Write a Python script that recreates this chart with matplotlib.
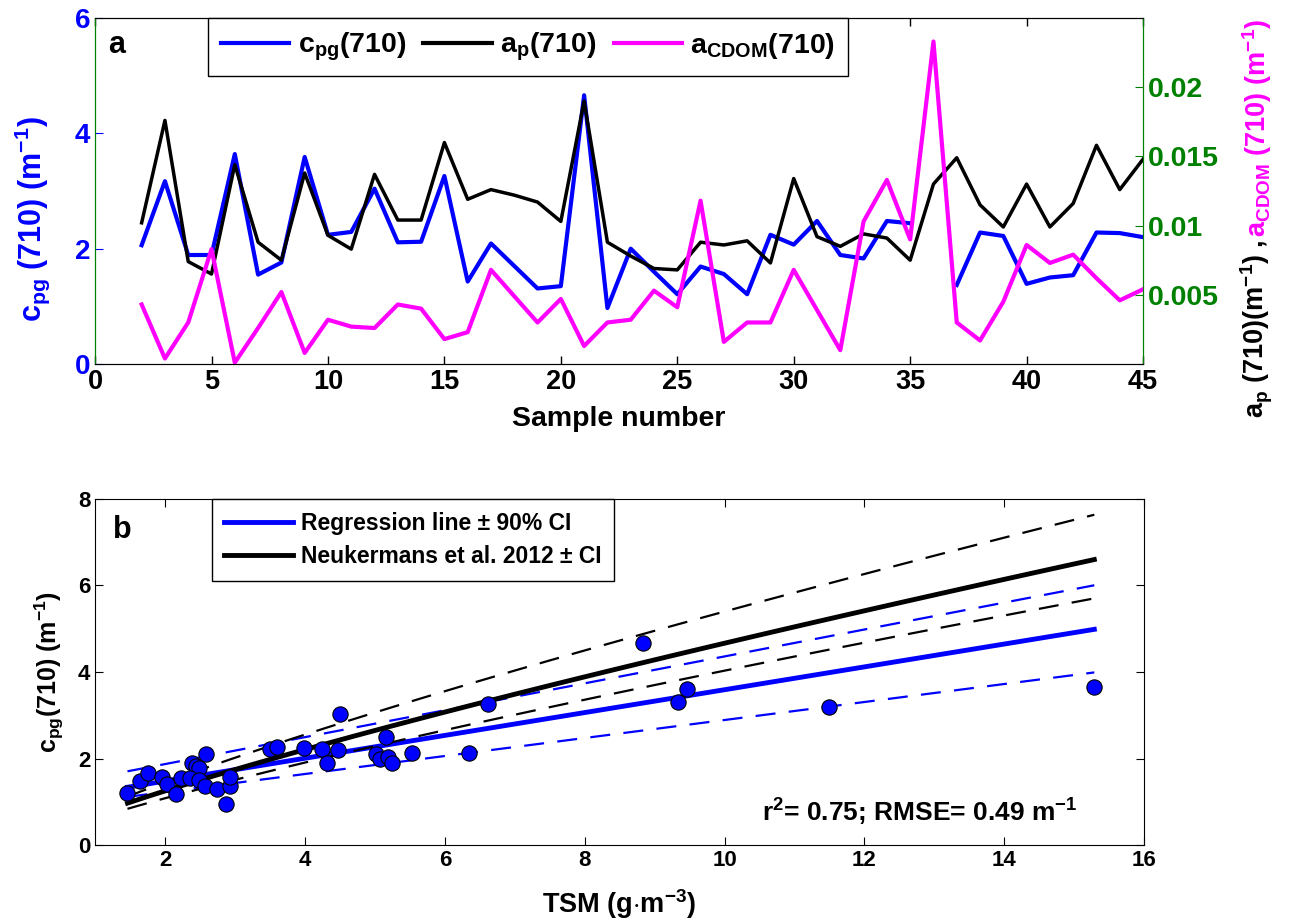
import numpy as np
import matplotlib
matplotlib.use("Agg")
import matplotlib.pyplot as plt
from matplotlib.lines import Line2D

plt.rcParams['font.family'] = ['Liberation Sans', 'DejaVu Sans']
plt.rcParams['font.weight'] = 'bold'
plt.rcParams['mathtext.fontset'] = 'custom'
plt.rcParams['mathtext.rm'] = 'Liberation Sans:bold'
plt.rcParams['mathtext.it'] = 'Liberation Sans:bold'
plt.rcParams['mathtext.bf'] = 'Liberation Sans:bold'
plt.rcParams['mathtext.default'] = 'rm'

# ---- panel a data ----
sample = np.arange(2, 46)
cpg = [2.06, 3.17, 1.89, 1.89, 3.64, 1.55, 1.76, 3.59, 2.24, 2.29, 3.04, 2.11, 2.12, 3.26, 1.43,
       2.09, 1.70, 1.31, 1.35, 4.66, 0.97, 2.00, 1.60, 1.21, 1.69, 1.56, 1.21, 2.24, 2.07, 2.48, 1.89, 1.83,
       2.48, 2.44, np.nan, 1.37, 2.28, 2.22, 1.39, 1.50, 1.54, 2.28, 2.27, 2.20]
ap = [0.0102, 0.0176, 0.0074, 0.0065, 0.0144, 0.0088, 0.0075, 0.0138, 0.0093, 0.0083, 0.0137, 0.0104, 0.0104, 0.0160, 0.0119,
      0.0126, 0.0122, 0.0117, 0.0103, 0.0190, 0.0088, 0.0078, 0.0069, 0.0068, 0.0088, 0.0086, 0.0089, 0.0073, 0.0134, 0.0092, 0.0085, 0.0094,
      0.0091, 0.0075, 0.0130, 0.0149, 0.0115, 0.0099, 0.0130, 0.0099, 0.0116, 0.0158, 0.0126, 0.0148]
acdom = [0.0043, 0.0004, 0.0030, 0.0083, 0.0001, 0.0026, 0.0052, 0.0008, 0.0032, 0.0027, 0.0026, 0.0043, 0.0040, 0.0018, 0.0023,
         0.0068, 0.0049, 0.0030, 0.0047, 0.0013, 0.0030, 0.0032, 0.0053, 0.0041, 0.0118, 0.0016, 0.0030, 0.0030, 0.0068, 0.0039, 0.0010, 0.0103,
         0.0133, 0.0090, 0.0233, 0.0030, 0.0017, 0.0045, 0.0086, 0.0073, 0.0079, 0.0062, 0.0046, 0.0054]

# ---- panel b data ----
tsm = [1.46, 1.64, 1.75, 1.95, 2.03, 2.15, 2.22, 2.38, 2.44, 2.48, 2.36, 2.59, 2.49, 2.57, 2.74, 2.87, 2.92, 2.92,
       3.50, 3.60, 3.98, 4.24, 4.31, 4.47, 4.50, 5.01, 5.07, 5.16, 5.18, 5.25, 5.53, 6.34, 6.62,
       8.84, 9.46, 9.34, 11.50, 15.29]
cpg_b = [1.21, 1.49, 1.67, 1.57, 1.41, 1.19, 1.54, 1.90, 1.83, 1.77, 1.55, 2.10, 1.50, 1.36, 1.29, 0.95, 1.36, 1.57,
         2.21, 2.27, 2.24, 2.22, 1.90, 2.20, 3.04, 2.10, 2.00, 2.49, 2.03, 1.90, 2.13, 2.12, 3.25,
         4.66, 3.60, 3.30, 3.18, 3.65]
# linear fit y = slope*x + intercept : fit, upper CI, lower CI
reg_slope = [0.264, 0.311, 0.208]
reg_icpt = [0.95, 1.25, 0.81]
# Neukermans et al. 2012 power law y = a*x^b, CI as factor
neuk_a, neuk_b = 0.711, 0.817
neuk_ci = [1.157, 0.864]

BLUE = '#0000ff'
MAG = '#ff00ff'
GREEN = '#008000'

fig = plt.figure(figsize=(12.97, 9.22), dpi=100)

# ================= panel a =================
ax1 = fig.add_axes([0.0733, 0.6052, 0.8080, 0.3753])
ax2 = ax1.twinx()
ax1.plot(sample, cpg, color=BLUE, lw=3)
ax2.plot(sample, ap, color='black', lw=2.5)
ax2.plot(sample, acdom, color=MAG, lw=3)
ax1.set_xlim(0, 45)
ax1.set_ylim(0, 6)
ax2.set_ylim(0, 0.025)
ax1.set_xticks(range(0, 46, 5))
ax1.set_yticks([0, 2, 4, 6])
ax2.set_yticks([0.005, 0.01, 0.015, 0.02])
ax2.set_yticklabels(['0.005', '0.01', '0.015', '0.02'])
ax1.tick_params(axis='x', direction='in', top=True, labelsize=19.5, length=6, width=1)
ax1.tick_params(axis='y', direction='in', colors=BLUE, labelsize=20, length=6)
ax2.tick_params(axis='y', direction='in', colors=GREEN, labelsize=20.5, length=6)
for a in (ax1, ax2):
    a.spines['left'].set_color(GREEN)
    a.spines['right'].set_color(GREEN)
ax1.set_xlabel('Sample number', fontsize=20.5, fontweight='bold', labelpad=8)
ax1.set_ylabel(r'c$_{pg}$ (710) (m$^{-1}$)', fontsize=22, color=BLUE, fontweight='bold')
ax1.yaxis.set_label_coords(-0.041, 0.42)
ax1.text(0.012, 0.965, 'a', transform=ax1.transAxes, fontsize=22, fontweight='bold', va='top')

handles = [Line2D([], [], color=BLUE, lw=3), Line2D([], [], color='black', lw=3),
           Line2D([], [], color=MAG, lw=3)]
labels = [r'c$_{pg}$(710)', r'a$_p$(710)', r'a$_{CDOM}$(710)']
leg = ax2.legend(handles, labels, loc='upper left', bbox_to_anchor=(0.108, 1.0), ncol=3,
                 fontsize=20.5, handlelength=2.4, columnspacing=0.6, handletextpad=0.3,
                 fancybox=False, framealpha=1, edgecolor='black', borderaxespad=0,
                 borderpad=0.45)
leg.get_frame().set_linewidth(1.0)

# right label in two colours
t1 = fig.text(0.969, 0.547, r'a$_p$ (710)(m$^{-1}$) , ', rotation=90, color='black',
              fontsize=19.5, fontweight='bold', ha='center', va='bottom')
fig.canvas.draw()
bb = t1.get_window_extent()
y_top = bb.y1 / fig.bbox.height
fig.text(0.969, y_top, r'a$_{CDOM}$ (710) (m$^{-1}$)', rotation=90, color=MAG,
         fontsize=19.5, fontweight='bold', ha='center', va='bottom')

# ================= panel b =================
bx = fig.add_axes([0.0735, 0.0835, 0.8085, 0.3753])
xr = np.linspace(min(tsm), max(tsm), 100)
bx.plot(xr, reg_slope[0] * xr + reg_icpt[0], color=BLUE, lw=3.5)
for k in (1, 2):
    bx.plot(xr, reg_slope[k] * xr + reg_icpt[k], color=BLUE, lw=1.6, dashes=(9, 6))
neuk = neuk_a * xr ** neuk_b
bx.plot(xr, neuk, color='black', lw=3.5)
for f in neuk_ci:
    bx.plot(xr, neuk * f, color='black', lw=1.6, dashes=(9, 6))
bx.plot(tsm, cpg_b, 'o', ms=11, mfc=BLUE, mec='black', mew=0.8, zorder=3)
bx.set_xlim(1, 16)
bx.set_ylim(0, 8)
bx.set_xticks(range(2, 17, 2))
bx.set_yticks(range(0, 9, 2))
bx.tick_params(direction='in', top=True, right=True, labelsize=16, length=6)
bx.set_xlabel(r'TSM (g$\cdot$m$^{-3}$)', fontsize=19.5, fontweight='bold', labelpad=12)
bx.set_ylabel(r'c$_{pg}$(710) (m$^{-1}$)', fontsize=18, fontweight='bold', labelpad=9)
bx.text(0.017, 0.955, 'b', transform=bx.transAxes, fontsize=22, fontweight='bold', va='top')
bx.text(0.937, 0.05, r'r$^2$= 0.75; RMSE= 0.49 m$^{-1}$', transform=bx.transAxes,
        fontsize=19, fontweight='bold', ha='right', va='bottom')

hb = [Line2D([], [], color=BLUE, lw=3.5), Line2D([], [], color='black', lw=3.5)]
lb = [u'Regression line \u00b1 90% CI', u'Neukermans et al. 2012 \u00b1 CI']
leg2 = bx.legend(hb, lb, loc='upper left', bbox_to_anchor=(0.111, 1.0), fontsize=16.5,
                 handlelength=3.0, handletextpad=0.35, fancybox=False, framealpha=1,
                 edgecolor='black', borderaxespad=0, borderpad=0.55, labelspacing=0.45)
leg2.get_frame().set_linewidth(1.0)

fig.savefig('out.png', dpi=100)
